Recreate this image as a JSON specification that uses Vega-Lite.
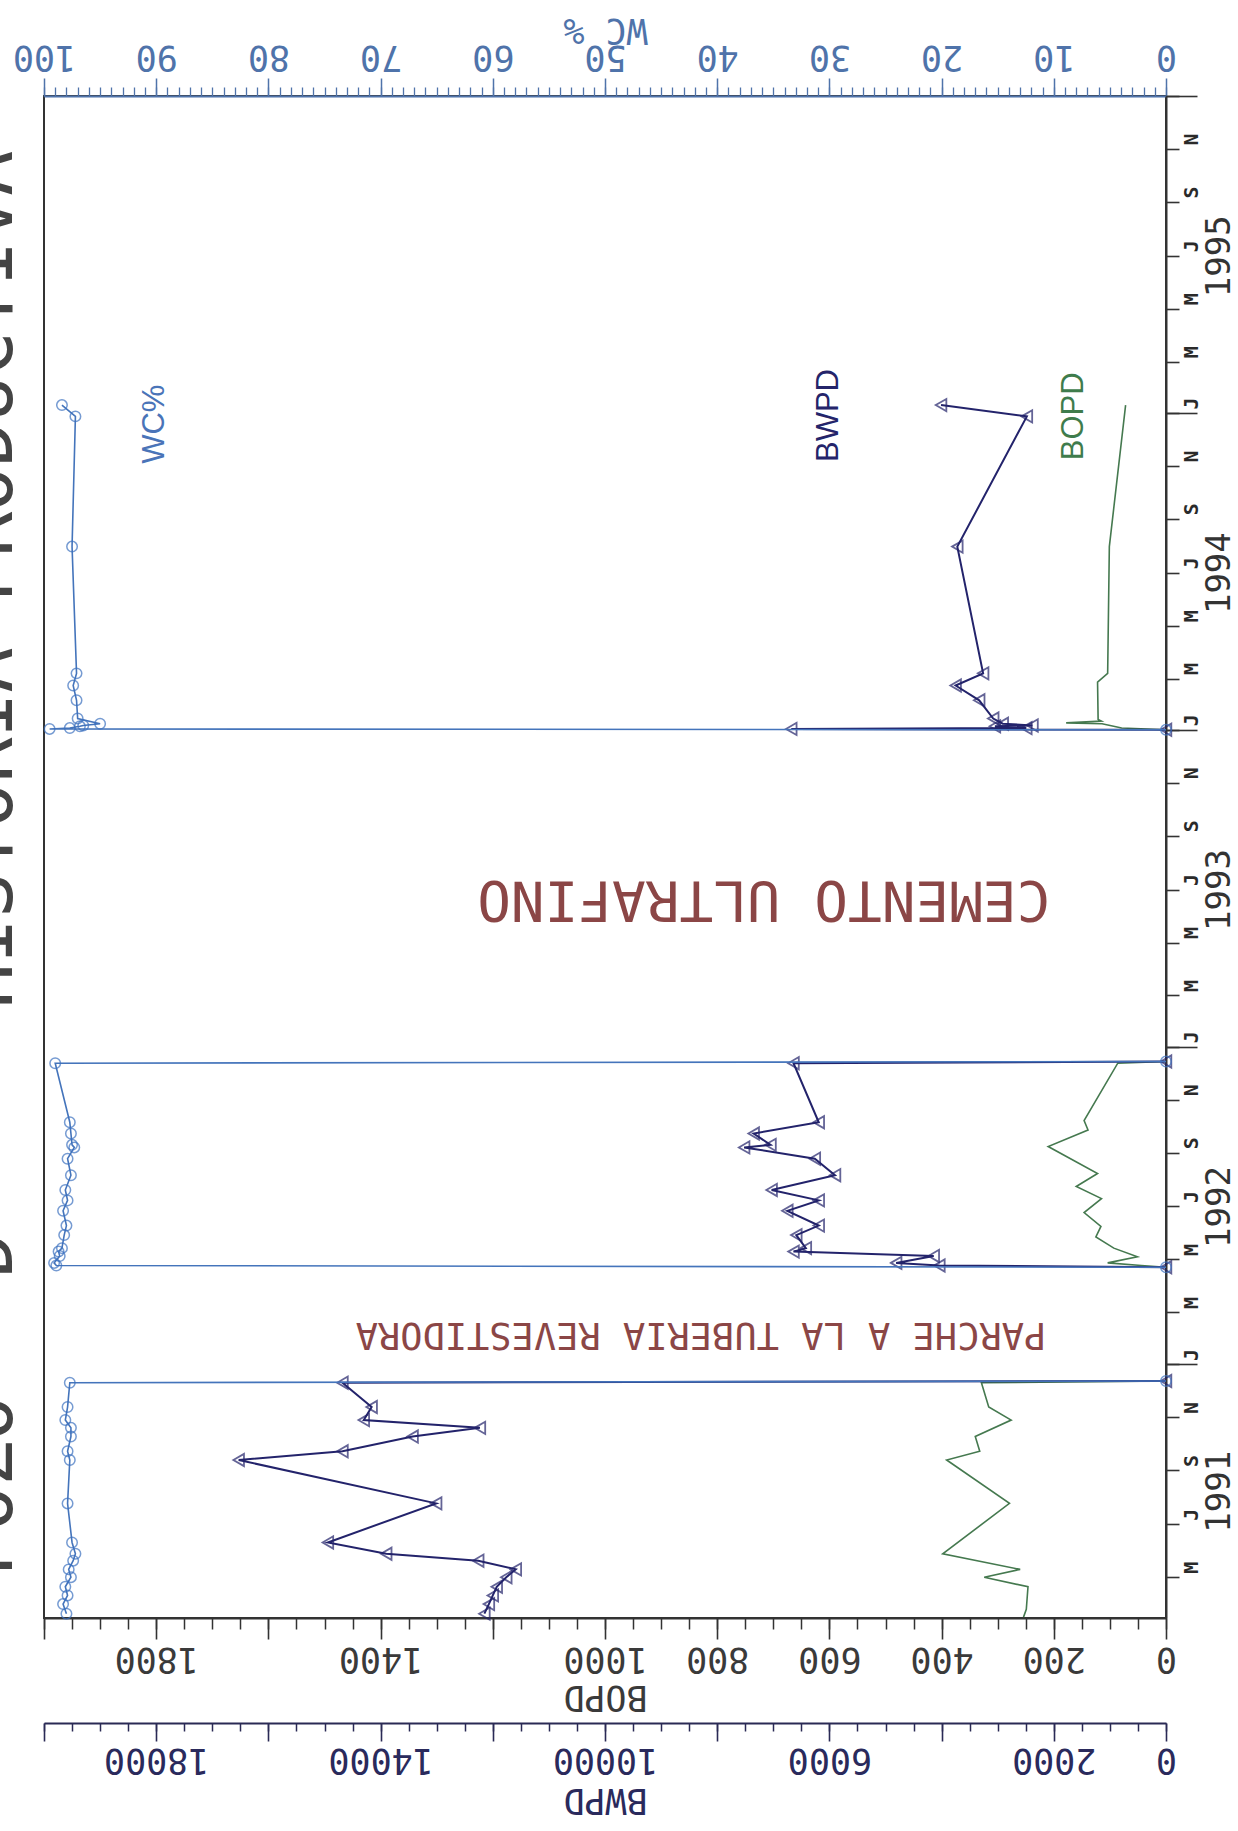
{
  "$schema": "https://vega.github.io/schema/vega-lite/v6.json",
  "width": 1122,
  "height": 1522,
  "autosize": {"type": "none"},
  "padding": {"left": 44, "top": 96, "right": 72, "bottom": 213},
  "background": "#ffffff",
  "config": {
    "view": {"stroke": "#333333", "strokeWidth": 2},
    "axis": {"grid": false, "labelFont": "DejaVu Sans Mono", "titleFont": "DejaVu Sans Mono", "titleFontWeight": "normal"}
  },
  "datasets": {
    "prod": [
      {"s": "BWPD", "run": 1, "date": "1991-03-20", "v": 12150},
      {"s": "BWPD", "run": 1, "date": "1991-03-31", "v": 12070},
      {"s": "BWPD", "run": 1, "date": "1991-04-10", "v": 12000},
      {"s": "BWPD", "run": 1, "date": "1991-04-20", "v": 11930},
      {"s": "BWPD", "run": 1, "date": "1991-05-01", "v": 11760},
      {"s": "BWPD", "run": 1, "date": "1991-05-10", "v": 11590},
      {"s": "BWPD", "run": 1, "date": "1991-05-20", "v": 12260},
      {"s": "BWPD", "run": 1, "date": "1991-05-28", "v": 13900},
      {"s": "BWPD", "run": 1, "date": "1991-06-10", "v": 14940},
      {"s": "BWPD", "run": 1, "date": "1991-07-25", "v": 13010},
      {"s": "BWPD", "run": 1, "date": "1991-09-13", "v": 16530},
      {"s": "BWPD", "run": 1, "date": "1991-09-23", "v": 14680},
      {"s": "BWPD", "run": 1, "date": "1991-10-10", "v": 13430},
      {"s": "BWPD", "run": 1, "date": "1991-10-20", "v": 12230},
      {"s": "BWPD", "run": 1, "date": "1991-10-29", "v": 14300},
      {"s": "BWPD", "run": 1, "date": "1991-11-13", "v": 14160},
      {"s": "BWPD", "run": 1, "date": "1991-12-11", "v": 14680},
      {"s": "BWPD", "run": 1, "date": "1991-12-13", "v": 0},

      {"s": "BOPD", "run": 1, "date": "1991-03-16", "v": 254},
      {"s": "BOPD", "run": 1, "date": "1991-03-25", "v": 249},
      {"s": "BOPD", "run": 1, "date": "1991-04-20", "v": 246},
      {"s": "BOPD", "run": 1, "date": "1991-05-01", "v": 324},
      {"s": "BOPD", "run": 1, "date": "1991-05-10", "v": 260},
      {"s": "BOPD", "run": 1, "date": "1991-05-28", "v": 398},
      {"s": "BOPD", "run": 1, "date": "1991-07-25", "v": 279},
      {"s": "BOPD", "run": 1, "date": "1991-09-13", "v": 391},
      {"s": "BOPD", "run": 1, "date": "1991-09-23", "v": 332},
      {"s": "BOPD", "run": 1, "date": "1991-10-10", "v": 340},
      {"s": "BOPD", "run": 1, "date": "1991-10-29", "v": 276},
      {"s": "BOPD", "run": 1, "date": "1991-11-13", "v": 316},
      {"s": "BOPD", "run": 1, "date": "1991-12-11", "v": 329},
      {"s": "BOPD", "run": 1, "date": "1991-12-13", "v": 0},

      {"s": "WC", "run": 1, "date": "1991-03-20", "v": 98.0},
      {"s": "WC", "run": 1, "date": "1991-03-31", "v": 98.3},
      {"s": "WC", "run": 1, "date": "1991-04-10", "v": 97.9},
      {"s": "WC", "run": 1, "date": "1991-04-20", "v": 98.1},
      {"s": "WC", "run": 1, "date": "1991-05-01", "v": 97.6},
      {"s": "WC", "run": 1, "date": "1991-05-10", "v": 97.8},
      {"s": "WC", "run": 1, "date": "1991-05-20", "v": 97.4},
      {"s": "WC", "run": 1, "date": "1991-05-28", "v": 97.2},
      {"s": "WC", "run": 1, "date": "1991-06-10", "v": 97.5},
      {"s": "WC", "run": 1, "date": "1991-07-25", "v": 97.9},
      {"s": "WC", "run": 1, "date": "1991-09-13", "v": 97.7},
      {"s": "WC", "run": 1, "date": "1991-09-23", "v": 97.9},
      {"s": "WC", "run": 1, "date": "1991-10-10", "v": 97.6},
      {"s": "WC", "run": 1, "date": "1991-10-20", "v": 97.6},
      {"s": "WC", "run": 1, "date": "1991-10-29", "v": 98.1},
      {"s": "WC", "run": 1, "date": "1991-11-13", "v": 97.9},
      {"s": "WC", "run": 1, "date": "1991-12-11", "v": 97.7},
      {"s": "WC", "run": 1, "date": "1991-12-13", "v": 0},

      {"s": "BWPD", "run": 2, "date": "1992-04-22", "v": 0},
      {"s": "BWPD", "run": 2, "date": "1992-04-24", "v": 4040},
      {"s": "BWPD", "run": 2, "date": "1992-04-27", "v": 4810},
      {"s": "BWPD", "run": 2, "date": "1992-05-05", "v": 4140},
      {"s": "BWPD", "run": 2, "date": "1992-05-10", "v": 6640},
      {"s": "BWPD", "run": 2, "date": "1992-05-14", "v": 6420},
      {"s": "BWPD", "run": 2, "date": "1992-05-29", "v": 6590},
      {"s": "BWPD", "run": 2, "date": "1992-06-09", "v": 6190},
      {"s": "BWPD", "run": 2, "date": "1992-06-26", "v": 6750},
      {"s": "BWPD", "run": 2, "date": "1992-07-08", "v": 6190},
      {"s": "BWPD", "run": 2, "date": "1992-07-20", "v": 7030},
      {"s": "BWPD", "run": 2, "date": "1992-08-06", "v": 5900},
      {"s": "BWPD", "run": 2, "date": "1992-08-25", "v": 6260},
      {"s": "BWPD", "run": 2, "date": "1992-09-07", "v": 7520},
      {"s": "BWPD", "run": 2, "date": "1992-09-10", "v": 7050},
      {"s": "BWPD", "run": 2, "date": "1992-09-23", "v": 7350},
      {"s": "BWPD", "run": 2, "date": "1992-10-06", "v": 6190},
      {"s": "BWPD", "run": 2, "date": "1992-12-13", "v": 6640},
      {"s": "BWPD", "run": 2, "date": "1992-12-15", "v": 0},

      {"s": "BOPD", "run": 2, "date": "1992-04-22", "v": 0},
      {"s": "BOPD", "run": 2, "date": "1992-04-24", "v": 44},
      {"s": "BOPD", "run": 2, "date": "1992-04-27", "v": 104},
      {"s": "BOPD", "run": 2, "date": "1992-05-04", "v": 51},
      {"s": "BOPD", "run": 2, "date": "1992-05-14", "v": 93},
      {"s": "BOPD", "run": 2, "date": "1992-05-27", "v": 125},
      {"s": "BOPD", "run": 2, "date": "1992-06-08", "v": 116},
      {"s": "BOPD", "run": 2, "date": "1992-06-24", "v": 146},
      {"s": "BOPD", "run": 2, "date": "1992-07-10", "v": 115},
      {"s": "BOPD", "run": 2, "date": "1992-07-24", "v": 160},
      {"s": "BOPD", "run": 2, "date": "1992-08-08", "v": 122},
      {"s": "BOPD", "run": 2, "date": "1992-09-08", "v": 210},
      {"s": "BOPD", "run": 2, "date": "1992-09-27", "v": 139},
      {"s": "BOPD", "run": 2, "date": "1992-10-08", "v": 146},
      {"s": "BOPD", "run": 2, "date": "1992-12-13", "v": 86},
      {"s": "BOPD", "run": 2, "date": "1992-12-15", "v": 0},

      {"s": "WC", "run": 2, "date": "1992-04-22", "v": 0},
      {"s": "WC", "run": 2, "date": "1992-04-24", "v": 98.9},
      {"s": "WC", "run": 2, "date": "1992-04-27", "v": 99.1},
      {"s": "WC", "run": 2, "date": "1992-05-05", "v": 98.6},
      {"s": "WC", "run": 2, "date": "1992-05-10", "v": 98.7},
      {"s": "WC", "run": 2, "date": "1992-05-14", "v": 98.4},
      {"s": "WC", "run": 2, "date": "1992-05-29", "v": 98.2},
      {"s": "WC", "run": 2, "date": "1992-06-09", "v": 98.0},
      {"s": "WC", "run": 2, "date": "1992-06-26", "v": 98.3},
      {"s": "WC", "run": 2, "date": "1992-07-08", "v": 97.9},
      {"s": "WC", "run": 2, "date": "1992-07-20", "v": 98.1},
      {"s": "WC", "run": 2, "date": "1992-08-06", "v": 97.6},
      {"s": "WC", "run": 2, "date": "1992-08-25", "v": 97.9},
      {"s": "WC", "run": 2, "date": "1992-09-07", "v": 97.3},
      {"s": "WC", "run": 2, "date": "1992-09-10", "v": 97.5},
      {"s": "WC", "run": 2, "date": "1992-09-23", "v": 97.6},
      {"s": "WC", "run": 2, "date": "1992-10-06", "v": 97.7},
      {"s": "WC", "run": 2, "date": "1992-12-13", "v": 99.0},
      {"s": "WC", "run": 2, "date": "1992-12-15", "v": 0},

      {"s": "BWPD", "run": 3, "date": "1994-01-01", "v": 0},
      {"s": "BWPD", "run": 3, "date": "1994-01-02", "v": 6680},
      {"s": "BWPD", "run": 3, "date": "1994-01-03", "v": 2490},
      {"s": "BWPD", "run": 3, "date": "1994-01-05", "v": 3050},
      {"s": "BWPD", "run": 3, "date": "1994-01-06", "v": 2380},
      {"s": "BWPD", "run": 3, "date": "1994-01-08", "v": 2910},
      {"s": "BWPD", "run": 3, "date": "1994-01-14", "v": 3080},
      {"s": "BWPD", "run": 3, "date": "1994-02-04", "v": 3330},
      {"s": "BWPD", "run": 3, "date": "1994-02-21", "v": 3750},
      {"s": "BWPD", "run": 3, "date": "1994-03-07", "v": 3260},
      {"s": "BWPD", "run": 3, "date": "1994-07-31", "v": 3720},
      {"s": "BWPD", "run": 3, "date": "1994-12-28", "v": 2480},
      {"s": "BWPD", "run": 3, "date": "1995-01-10", "v": 4010},

      {"s": "BOPD", "run": 3, "date": "1994-01-01", "v": 0},
      {"s": "BOPD", "run": 3, "date": "1994-01-03", "v": 79},
      {"s": "BOPD", "run": 3, "date": "1994-01-08", "v": 114},
      {"s": "BOPD", "run": 3, "date": "1994-01-09", "v": 178},
      {"s": "BOPD", "run": 3, "date": "1994-01-11", "v": 115},
      {"s": "BOPD", "run": 3, "date": "1994-01-13", "v": 121},
      {"s": "BOPD", "run": 3, "date": "1994-02-25", "v": 122},
      {"s": "BOPD", "run": 3, "date": "1994-03-07", "v": 104},
      {"s": "BOPD", "run": 3, "date": "1994-07-31", "v": 101},
      {"s": "BOPD", "run": 3, "date": "1995-01-10", "v": 72},

      {"s": "WC", "run": 3, "date": "1994-01-01", "v": 0},
      {"s": "WC", "run": 3, "date": "1994-01-02", "v": 99.5},
      {"s": "WC", "run": 3, "date": "1994-01-03", "v": 97.7},
      {"s": "WC", "run": 3, "date": "1994-01-05", "v": 96.8},
      {"s": "WC", "run": 3, "date": "1994-01-06", "v": 96.5},
      {"s": "WC", "run": 3, "date": "1994-01-08", "v": 95.0},
      {"s": "WC", "run": 3, "date": "1994-01-14", "v": 97.0},
      {"s": "WC", "run": 3, "date": "1994-02-04", "v": 97.1},
      {"s": "WC", "run": 3, "date": "1994-02-21", "v": 97.4},
      {"s": "WC", "run": 3, "date": "1994-03-07", "v": 97.1},
      {"s": "WC", "run": 3, "date": "1994-07-31", "v": 97.5},
      {"s": "WC", "run": 3, "date": "1994-12-28", "v": 97.2},
      {"s": "WC", "run": 3, "date": "1995-01-10", "v": 98.4}
    ],
    "notes": [
      {"t": "CEMENTO ULTRAFINO", "date": "1993-06-20", "v": 717},
      {"t": "PARCHE A LA TUBERIA REVESTIDORA", "date": "1992-02-05", "v": 829},
      {"t": "WC%", "date": "1994-12-19", "v": 1802},
      {"t": "BWPD", "date": "1994-12-29", "v": 601},
      {"t": "BOPD", "date": "1994-12-28", "v": 164},
      {"t": "POZO", "date": "1991-08-14", "v": 2057},
      {"t": "D", "date": "1992-05-06", "v": 2057},
      {"t": "HISTORIA PRODUCTIVA", "date": "1994-06-23", "v": 2057}
    ]
  },
  "layer": [
    {
      "layer": [
        {
          "data": {"name": "prod"},
          "transform": [{"filter": "datum.s === 'BOPD'"}],
          "mark": {"type": "line", "color": "#45794f", "strokeWidth": 1.6},
          "encoding": {
            "x": {
              "field": "v", "type": "quantitative",
              "scale": {"domain": [0, 2000], "reverse": true, "nice": false},
              "axis": {
                "orient": "bottom",
                "values": [0, 200, 400, 600, 800, 1000, 1200, 1400, 1600, 1800, 2000],
                "format": "d",
                "labelExpr": "datum.value == 1200 || datum.value == 1600 || datum.value == 2000 ? '' : datum.label",
                "tickSize": 21, "tickWidth": 1.6, "tickColor": "#333333",
                "domainColor": "#333333", "domainWidth": 2,
                "labelAngle": 180, "labelAlign": "center", "labelBaseline": "bottom", "labelPadding": 1,
                "labelFontSize": 35, "labelColor": "#3a3a3a",
                "labelFlush": false, "labelOverlap": false, "labelBound": false,
                "title": "BOPD", "titleFontSize": 35, "titleColor": "#3a3a3a",
                "titleAngle": 180, "titleBaseline": "middle", "titleAlign": "center", "titleY": 78
              }
            },
            "y": {
              "field": "date", "type": "temporal",
              "scale": {"type": "utc", "domain": [{"year": 1991, "month": 3, "date": 15, "utc": true}, {"year": 1996, "month": 1, "date": 1, "utc": true}]},
              "axis": {
                "orient": "right",
                "tickCount": {"interval": "month", "step": 2},
                "labelExpr": "utcFormat(datum.value, '%Y-%m') == '1996-01' ? '' : substring(utcFormat(datum.value, '%b'), 0, 1)",
                "labelAngle": -90, "labelAlign": "center", "labelBaseline": "top",
                "labelPadding": 2, "labelOffset": -10,
                "labelFontSize": 20, "labelFontWeight": "bold", "labelColor": "#2a2a2a",
                "labelFlush": false, "labelOverlap": false, "labelBound": false,
                "tickSize": 13, "tickWidth": 1.6, "tickColor": "#333333",
                "domainColor": "#333333", "domainWidth": 2,
                "title": null
              }
            },
            "detail": {"field": "run", "type": "nominal"},
            "order": {"field": "date", "type": "temporal"}
          }
        },
        {
          "data": {"name": "notes"},
          "transform": [{"filter": "datum.t === 'CEMENTO ULTRAFINO'"}],
          "mark": {"type": "text", "angle": 180, "font": "DejaVu Sans Mono", "fontSize": 56, "color": "#8b4646", "align": "center", "baseline": "middle"},
          "encoding": {
            "x": {
              "field": "v", "type": "quantitative",
              "scale": {"domain": [0, 2000], "reverse": true, "nice": false},
              "axis": {
                "orient": "bottom",
                "values": [0, 50, 100, 150, 200, 250, 300, 350, 400, 450, 500, 550, 600, 650, 700, 750, 800, 850, 900, 950, 1000, 1050, 1100, 1150, 1200, 1250, 1300, 1350, 1400, 1450, 1500, 1550, 1600, 1650, 1700, 1750, 1800, 1850, 1900, 1950, 2000],
                "labels": false, "domain": false,
                "tickSize": 11, "tickWidth": 1.5, "tickColor": "#333333",
                "title": null
              }
            },
            "y": {
              "field": "date", "type": "temporal",
              "scale": {"type": "utc", "domain": [{"year": 1991, "month": 3, "date": 15, "utc": true}, {"year": 1996, "month": 1, "date": 1, "utc": true}]},
              "axis": {
                "orient": "right",
                "tickCount": {"interval": "year"},
                "labels": false, "domain": false,
                "tickSize": 31, "tickWidth": 1.6, "tickColor": "#333333",
                "title": null
              }
            },
            "text": {"field": "t"}
          }
        },
        {
          "data": {"name": "notes"},
          "transform": [{"filter": "datum.t === 'PARCHE A LA TUBERIA REVESTIDORA'"}],
          "mark": {"type": "text", "angle": 180, "font": "DejaVu Sans Mono", "fontSize": 37, "color": "#8b4646", "align": "center", "baseline": "middle"},
          "encoding": {
            "x": {
              "field": "v", "type": "quantitative",
              "scale": {"domain": [0, 2000], "reverse": true, "nice": false},
              "axis": null
            },
            "y": {
              "field": "date", "type": "temporal",
              "scale": {"type": "utc", "domain": [{"year": 1991, "month": 3, "date": 15, "utc": true}, {"year": 1996, "month": 1, "date": 1, "utc": true}]},
              "axis": {
                "orient": "right",
                "values": [
                  {"year": 1991, "month": 8, "date": 8, "utc": true},
                  {"year": 1992, "month": 7, "date": 1, "utc": true},
                  {"year": 1993, "month": 7, "date": 1, "utc": true},
                  {"year": 1994, "month": 7, "date": 1, "utc": true},
                  {"year": 1995, "month": 7, "date": 1, "utc": true}
                ],
                "ticks": false, "tickSize": 0, "domain": false,
                "labelExpr": "utcFormat(datum.value, '%Y')",
                "labelAngle": -90, "labelAlign": "center", "labelBaseline": "top",
                "labelPadding": 36, "labelFontSize": 34, "labelColor": "#333333",
                "labelFlush": false, "labelOverlap": false, "labelBound": false,
                "title": null
              }
            },
            "text": {"field": "t"}
          }
        },
        {
          "data": {"name": "notes"},
          "transform": [{"filter": "datum.t === 'WC%' || datum.t === 'BWPD' || datum.t === 'BOPD'"}],
          "mark": {"type": "text", "angle": -90, "font": "Liberation Sans", "fontSize": 31, "align": "center", "baseline": "middle"},
          "encoding": {
            "x": {
              "field": "v", "type": "quantitative",
              "scale": {"domain": [0, 2000], "reverse": true, "nice": false},
              "axis": null
            },
            "y": {
              "field": "date", "type": "temporal",
              "scale": {"type": "utc", "domain": [{"year": 1991, "month": 3, "date": 15, "utc": true}, {"year": 1996, "month": 1, "date": 1, "utc": true}]},
              "axis": null
            },
            "color": {
              "field": "t", "type": "nominal",
              "scale": {"domain": ["WC%", "BWPD", "BOPD"], "range": ["#4a74b8", "#24246a", "#3f7c4c"]},
              "legend": null
            },
            "text": {"field": "t"}
          }
        },
        {
          "data": {"name": "notes"},
          "transform": [{"filter": "datum.t === 'POZO' || datum.t === 'D' || datum.t === 'HISTORIA PRODUCTIVA'"}],
          "mark": {"type": "text", "angle": -90, "font": "DejaVu Sans Mono", "fontSize": 75, "color": "#444444", "align": "center", "baseline": "alphabetic"},
          "encoding": {
            "x": {
              "field": "v", "type": "quantitative",
              "scale": {"domain": [0, 2000], "reverse": true, "nice": false},
              "axis": null
            },
            "y": {
              "field": "date", "type": "temporal",
              "scale": {"type": "utc", "domain": [{"year": 1991, "month": 3, "date": 15, "utc": true}, {"year": 1996, "month": 1, "date": 1, "utc": true}]},
              "axis": null
            },
            "text": {"field": "t"}
          }
        }
      ],
      "resolve": {"axis": {"x": "independent", "y": "independent"}}
    },
    {
      "data": {"name": "prod"},
      "transform": [{"filter": "datum.s === 'BWPD'"}],
      "layer": [
        {
          "mark": {"type": "line", "color": "#23236b", "strokeWidth": 2},
          "encoding": {
            "x": {
              "field": "v", "type": "quantitative",
              "scale": {"domain": [0, 20000], "reverse": true, "nice": false},
              "axis": {
                "orient": "bottom", "offset": 105,
                "values": [0, 2000, 4000, 6000, 8000, 10000, 12000, 14000, 16000, 18000, 20000],
                "format": "d",
                "labelExpr": "indexof([0, 2000, 6000, 10000, 14000, 18000], datum.value) >= 0 ? datum.label : ''",
                "tickSize": 18, "tickWidth": 1.6, "tickColor": "#2a2a55",
                "domainColor": "#2a2a55", "domainWidth": 2,
                "labelAngle": 180, "labelAlign": "center", "labelBaseline": "bottom", "labelPadding": 0,
                "labelFontSize": 35, "labelColor": "#2a2a5c",
                "labelFlush": false, "labelOverlap": false, "labelBound": false,
                "title": "BWPD", "titleFontSize": 35, "titleColor": "#2a2a5c",
                "titleAngle": 180, "titleBaseline": "middle", "titleAlign": "center", "titleY": 76
              }
            },
            "y": {
              "field": "date", "type": "temporal",
              "scale": {"type": "utc", "domain": [{"year": 1991, "month": 3, "date": 15, "utc": true}, {"year": 1996, "month": 1, "date": 1, "utc": true}]},
              "axis": null
            },
            "detail": {"field": "run", "type": "nominal"},
            "order": {"field": "date", "type": "temporal"}
          }
        },
        {
          "mark": {"type": "point", "shape": "triangle-left", "filled": false, "color": "#23236b", "strokeWidth": 1.8, "size": 150},
          "encoding": {
            "x": {
              "field": "v", "type": "quantitative",
              "scale": {"domain": [0, 20000], "reverse": true, "nice": false},
              "axis": {
                "orient": "bottom", "offset": 105,
                "values": [0, 500, 1000, 1500, 2000, 2500, 3000, 3500, 4000, 4500, 5000, 5500, 6000, 6500, 7000, 7500, 8000, 8500, 9000, 9500, 10000, 10500, 11000, 11500, 12000, 12500, 13000, 13500, 14000, 14500, 15000, 15500, 16000, 16500, 17000, 17500, 18000, 18500, 19000, 19500, 20000],
                "labels": false, "domain": false,
                "tickSize": 8, "tickWidth": 1.5, "tickColor": "#2a2a55",
                "title": null
              }
            },
            "y": {
              "field": "date", "type": "temporal",
              "scale": {"type": "utc", "domain": [{"year": 1991, "month": 3, "date": 15, "utc": true}, {"year": 1996, "month": 1, "date": 1, "utc": true}]},
              "axis": null
            }
          }
        }
      ],
      "resolve": {"axis": {"x": "independent"}}
    },
    {
      "data": {"name": "prod"},
      "transform": [{"filter": "datum.s === 'WC'"}],
      "layer": [
        {
          "mark": {"type": "line", "color": "#4474bb", "strokeWidth": 1.6},
          "encoding": {
            "x": {
              "field": "v", "type": "quantitative",
              "scale": {"domain": [0, 100], "reverse": true, "nice": false},
              "axis": {
                "orient": "top",
                "values": [0, 10, 20, 30, 40, 50, 60, 70, 80, 90, 100],
                "format": "d",
                "tickSize": 18, "tickWidth": 1.5, "tickColor": "#4f73aa",
                "domainColor": "#4f73aa", "domainWidth": 2,
                "labelAngle": 180, "labelAlign": "center", "labelBaseline": "top", "labelPadding": 5,
                "labelFontSize": 35, "labelColor": "#4f73aa",
                "labelFlush": false, "labelOverlap": false, "labelBound": false,
                "title": "WC %", "titleFontSize": 35, "titleColor": "#4f73aa",
                "titleAngle": 180, "titleBaseline": "middle", "titleAlign": "center", "titleY": -67
              }
            },
            "y": {
              "field": "date", "type": "temporal",
              "scale": {"type": "utc", "domain": [{"year": 1991, "month": 3, "date": 15, "utc": true}, {"year": 1996, "month": 1, "date": 1, "utc": true}]},
              "axis": null
            },
            "detail": {"field": "run", "type": "nominal"},
            "order": {"field": "date", "type": "temporal"}
          }
        },
        {
          "mark": {"type": "point", "shape": "circle", "filled": false, "color": "#3d72c0", "strokeWidth": 1.5, "size": 110},
          "encoding": {
            "x": {
              "field": "v", "type": "quantitative",
              "scale": {"domain": [0, 100], "reverse": true, "nice": false},
              "axis": {
                "orient": "top",
                "values": [0, 1, 2, 3, 4, 5, 6, 7, 8, 9, 10, 11, 12, 13, 14, 15, 16, 17, 18, 19, 20, 21, 22, 23, 24, 25, 26, 27, 28, 29, 30, 31, 32, 33, 34, 35, 36, 37, 38, 39, 40, 41, 42, 43, 44, 45, 46, 47, 48, 49, 50, 51, 52, 53, 54, 55, 56, 57, 58, 59, 60, 61, 62, 63, 64, 65, 66, 67, 68, 69, 70, 71, 72, 73, 74, 75, 76, 77, 78, 79, 80, 81, 82, 83, 84, 85, 86, 87, 88, 89, 90, 91, 92, 93, 94, 95, 96, 97, 98, 99, 100],
                "labels": false, "domain": false,
                "tickSize": 9, "tickWidth": 1.3, "tickColor": "#4f73aa",
                "title": null
              }
            },
            "y": {
              "field": "date", "type": "temporal",
              "scale": {"type": "utc", "domain": [{"year": 1991, "month": 3, "date": 15, "utc": true}, {"year": 1996, "month": 1, "date": 1, "utc": true}]},
              "axis": null
            }
          }
        }
      ],
      "resolve": {"axis": {"x": "independent"}}
    }
  ],
  "resolve": {"scale": {"x": "independent"}, "axis": {"x": "independent", "y": "independent"}}
}
